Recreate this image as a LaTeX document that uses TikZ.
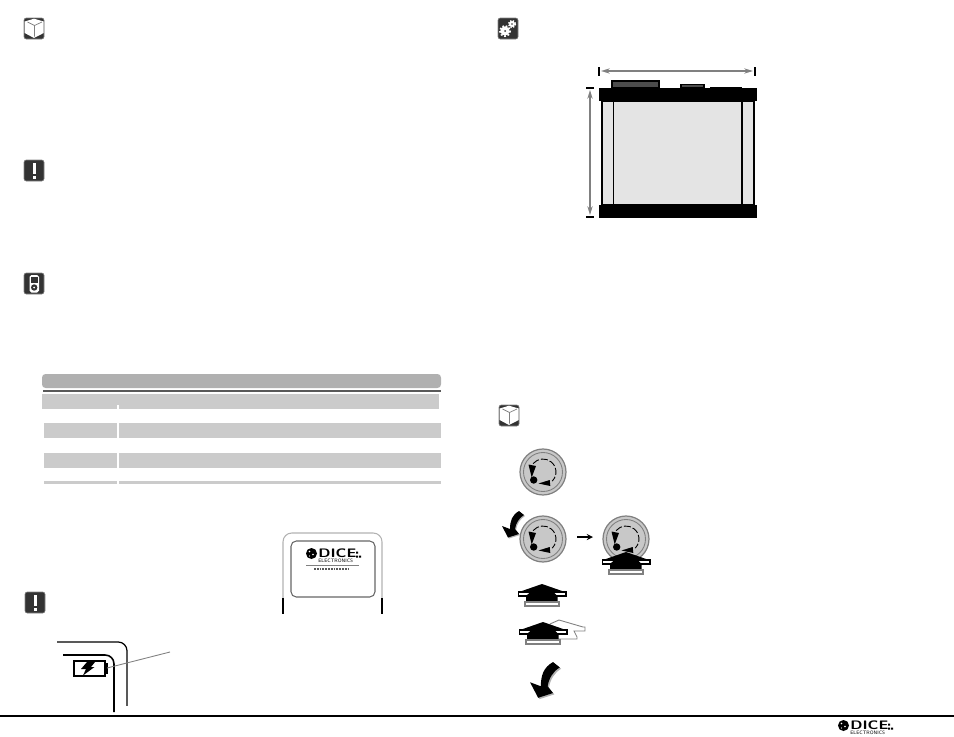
\documentclass[tikz,border=0pt]{standalone}
\usepackage{amsmath}
\usepackage{tikz}
\usetikzlibrary{arrows.meta}
\definecolor{icondark}{HTML}{333333}
\definecolor{tablehead}{HTML}{B0B0B0}
\definecolor{tablerow}{HTML}{CBCBCB}
\definecolor{dialgrey}{HTML}{C8C8C8}
\definecolor{bodygrey}{HTML}{E4E4E4}
\tikzset{
  iconframe/.style={fill=icondark, draw=icondark!60, line width=0.3pt, rounded corners=1.2pt},
  rowbar/.style={fill=tablerow, draw=none},
  measure/.style={gray, line width=1pt},
  % ICONS
  boxicon/.pic={
    \draw[iconframe] (0,0) rectangle (20,21);
    \fill[white] (10,0.7) -- (19.7,3.5) -- (19.7,15) -- (10,20) -- (0.7,15) -- (0.7,3.5) -- cycle;
    \draw[gray, line width=0.4pt] (3.5,4) -- (10.5,7.5) -- (18,4) (10.5,7.5) -- (10.5,18.5);
  },
  warnicon/.pic={
    \draw[iconframe] (0,0) rectangle (20,21);
    \fill[white] (8.5,3) rectangle (12,13.5);
    \fill[white] (8.5,15.5) rectangle (12,19);
  },
  playericon/.pic={
    \draw[iconframe] (0,0) rectangle (20,21);
    \fill[white, rounded corners=1pt] (5.5,2) rectangle (15,19.5);
    \fill[icondark] (7,3.5) rectangle (13.5,10);
    \fill[icondark] (10.2,14.5) circle [radius=3.2];
    \fill[white] (10.2,14.5) circle [radius=1];
  },
  gearicon/.pic={
    \draw[iconframe] (0,0) rectangle (20,21);
    \fill[white] (7,13) circle [radius=4.6];
    \draw[white, line width=1pt, dash pattern=on 1pt off 1pt] (7,13) circle [radius=5.2];
    \fill[icondark] (7,13) circle [radius=1];
    \fill[white] (14,6) circle [radius=3];
    \draw[white, line width=0.8pt, dash pattern=on 0.8pt off 0.8pt] (14,6) circle [radius=3.5];
    \fill[icondark] (14,6) circle [radius=0.8];
  },
  % DIAL AND ARROWS
  dial/.pic={
    \draw[fill=dialgrey, draw=gray, line width=0.7pt] (0,0) circle [radius=23];
    \draw[gray, line width=0.5pt] (0,0) circle [radius=19.5];
    \draw[black, line width=0.5pt, dash pattern=on 4pt off 1.2pt] (-140:13) arc [start angle=-140, end angle=45, radius=13];
    \fill[black] (-14.5,-7.5) -- (-7,-6) -- (-11.3,5.5) -- cycle;
    \fill[black] (-4.5,11.5) -- (6.7,8) -- (7.3,14) -- cycle;
    \fill[black] (-9.3,8) circle [radius=3.7];
  },
  pressarrow/.pic={
    \fill[black] (0,0) -- (-23,8) -- (23,8) -- cycle;
    \draw[fill=white, draw=black, line width=0.7pt] (-23.5,8) rectangle (24,12);
    \fill[black] (-11,7.5) -- (11,7.5) -- (15.5,12) -- (15.5,18) -- (-16,18) -- (-16,12) -- cycle;
    \draw[fill=white, draw=gray, line width=0.7pt] (-17,18) rectangle (17,22);
  },
  bendarrow/.pic={
    \fill[gray!60] (1,1) .. controls (-6,5) and (-8,11) .. (-8,19) -- (-16,16) -- (-10,27.5) -- (1,24) -- (-3,19) .. controls (-2,13) and (1,8) .. (6,5) -- cycle;
    \fill[black] (0,0) .. controls (-7,4) and (-9,10) .. (-9,18) -- (-17,15) -- (-11,26.5) -- (0,23) -- (-4,18) .. controls (-3,12) and (0,7) .. (5,4) -- cycle;
  },
  % LOGO
  dicelogo/.pic={
    \fill[black] (5.5,5.5) circle [radius=5.5];
    \fill[white] (3.5,3.5) circle [radius=0.8] (7,6.5) circle [radius=0.8] (3.5,8) circle [radius=0.6];
    \node[inner sep=0pt, anchor=west, xscale=1.25, font=\fontsize{7}{7}\selectfont\sffamily\bfseries] (-word) at (12,5) {DICE};
    \fill[black] (50,3.5) rectangle (52,5.5) (50,7.5) rectangle (52,9.5) (53,7.5) rectangle (55,9.5);
    \node[inner sep=0pt, anchor=west, font=\fontsize{2.8}{3}\selectfont\sffamily] (-sub) at (12,13) {ELECTRONICS};
  }
}
\begin{document}
\begin{tikzpicture}[x=0.02cm, y=-0.02cm, >=stealth]
  \useasboundingbox (0,0) rectangle (954,737);

  % ICONS
  \pic at (24,18) {boxicon};
  \pic at (24,160) {warnicon};
  \pic at (24,273) {playericon};
  \pic at (25,592) {warnicon};
  \pic at (498,18) {gearicon};
  \pic at (499,405) {boxicon};

  % TABLE
  \fill[tablehead, rounded corners=2pt] (42,374) rectangle (441,388);
  \draw[gray!70!black, line width=0.6pt] (43,391) -- (441,391);
  \fill[rowbar] (42,394) rectangle (439,405);
  \fill[rowbar] (42,405) rectangle (117,409);
  \fill[rowbar] (119,405) rectangle (439,409);
  \foreach \rowtop/\rowbot in {423/438, 453/468, 481/484} {
    \fill[rowbar] (44,\rowtop) rectangle (117,\rowbot);
    \fill[rowbar] (119,\rowtop) rectangle (441,\rowbot);
  }

  % REMOTE
  \draw[gray!60, line width=0.6pt, rounded corners=5pt] (283,598) -- (283,533) -- (382,533) -- (382,598);
  \draw[black, line width=0.6pt] (283,598) -- (283,614);
  \draw[black, line width=0.6pt] (382,598) -- (382,614);
  \draw[gray!80!black, line width=0.6pt, rounded corners=3pt] (291,541) rectangle (375,597);
  \pic (remotelogo) at (306,548) {dicelogo};
  \draw[gray, line width=0.4pt] (306,565) -- (359,565);
  \draw[gray!70!black, line width=0.8pt, dash pattern=on 1pt off 0.6pt] (314,569) -- (350,569);

  % BATTERY
  \draw[black, line width=0.7pt, rounded corners=5pt] (57,642) -- (127,642) -- (127,680);
  \draw[gray!70!black, line width=0.7pt] (127,680) -- (127,706);
  \draw[black, line width=0.9pt, rounded corners=5pt] (63,655) -- (114,655) -- (114,712);
  \draw[black, line width=0.6pt, fill=white] (74,661) rectangle (105,676);
  \draw[black, line width=0.6pt, fill=white] (105,664) rectangle (107,673);
  \fill[black] (87,662) -- (95,662) -- (91,667) -- (94.5,667) -- (83,675.5) -- (86,669) -- (81,669) -- cycle;
  \coordinate (batteryend) at (107,668);
  \coordinate (leaderend) at (170,652);
  \draw[gray, line width=0.5pt] (batteryend) -- (leaderend);

  % CARTRIDGE
  \draw[black, line width=0.8pt, fill=bodygrey] (602,101) rectangle (754,205);
  \draw[black, line width=0.8pt] (613.5,101) -- (613.5,205);
  \draw[black, line width=0.8pt] (742,101) -- (742,205);
  \draw[black, line width=0.7pt, fill=black!70] (612,81) rectangle (659,88);
  \draw[black, line width=0.7pt, fill=black!70] (681,84.5) rectangle (704,88);
  \fill[black] (710,87) rectangle (742,88.5);
  \fill[black] (599,88) rectangle (757,101);
  \fill[black] (599,205) rectangle (757,218);

  % MEASURES
  \draw[black, line width=0.6pt] (599,67) -- (599,76);
  \draw[black, line width=0.6pt] (755,67) -- (755,76);
  \draw[black, line width=0.6pt] (586,88) -- (594,88);
  \draw[black, line width=0.6pt] (586,217) -- (594,217);
  \coordinate (widthleft) at (601,71);
  \coordinate (widthright) at (753,71);
  \coordinate (heighttop) at (590,90);
  \coordinate (heightbot) at (590,215);
  \draw[measure, {Stealth[open, fill=white, length=5pt, width=3pt]}-{Stealth[open, fill=white, length=5pt, width=3pt]}] (widthleft) -- (widthright);
  \draw[measure, {Stealth[open, fill=white, length=5pt, width=3pt]}-{Stealth[open, fill=white, length=5pt, width=3pt]}] (heighttop) -- (heightbot);

  % DIALS
  \coordinate (dialtop) at (543,472);
  \coordinate (dialleft) at (543,539);
  \coordinate (dialright) at (626,539);
  \pic at (dialtop) {dial};
  \pic at (dialleft) {dial};
  \pic at (dialright) {dial};
  \pic at (519,511) {bendarrow};
  \coordinate (stepstart) at (577,537);
  \coordinate (stepend) at (593,537);
  \draw[->, line width=0.6pt] (stepstart) -- (stepend);
  \pic at (626,552) {pressarrow};

  % PRESS ARROWS
  \pic at (542,584) {pressarrow};
  \draw[gray, line width=0.5pt, fill=white] (550,624) -- (559,620) -- (583,627) -- (585,627) -- (585,631) -- (574,631) -- (577,637) -- (577,639) -- (550,639) -- cycle;
  \pic at (543,622) {pressarrow};
  \pic[scale=1.35] at (553,662) {bendarrow};

  % FOOTER
  \draw[black, line width=0.6pt] (0,716) -- (954,716);
  \pic (footerlogo) at (838,720) {dicelogo};
\end{tikzpicture}
\end{document}
